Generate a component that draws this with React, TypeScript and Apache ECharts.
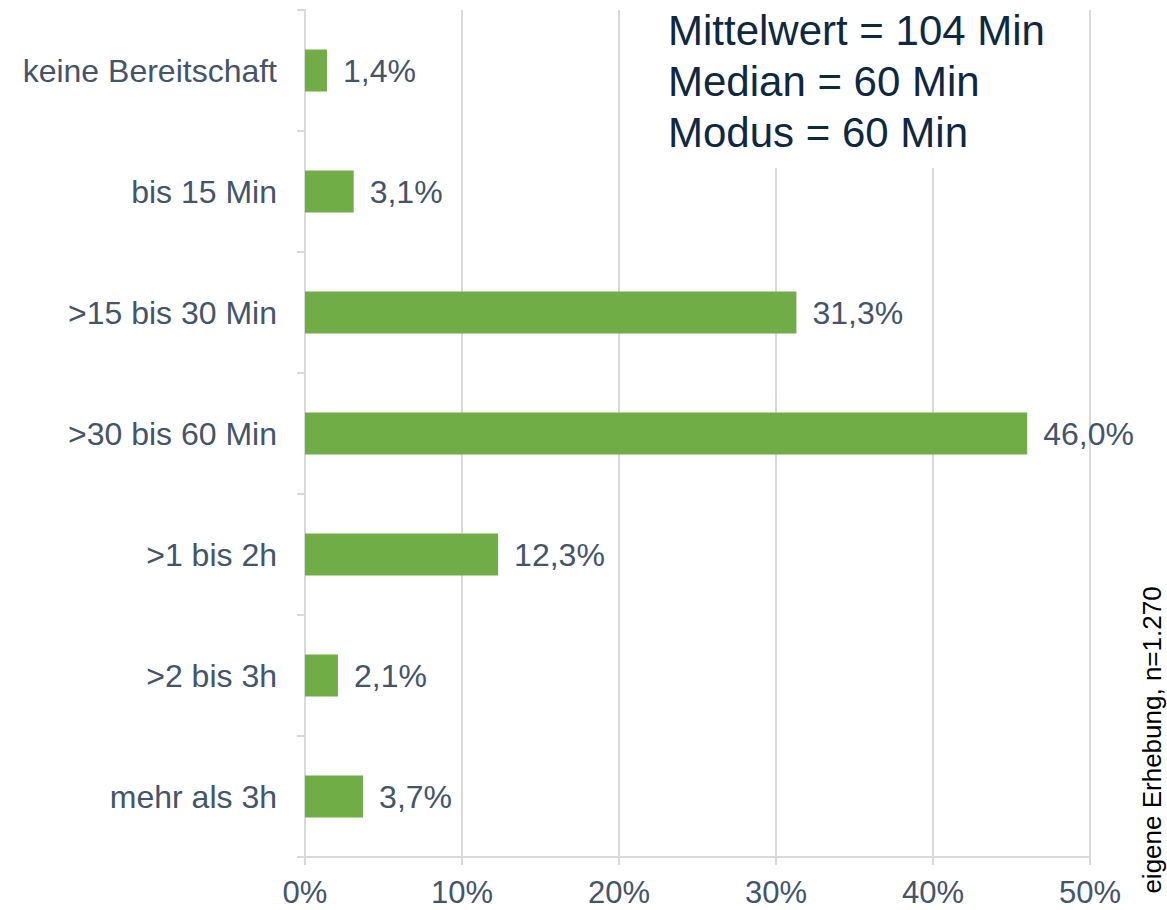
import React, { useEffect, useRef } from "react";
import * as echarts from "echarts";

const categories = [
  "keine Bereitschaft",
  "bis 15 Min",
  ">15 bis 30 Min",
  ">30 bis 60 Min",
  ">1 bis 2h",
  ">2 bis 3h",
  "mehr als 3h",
];
const values = [1.4, 3.1, 31.3, 46.0, 12.3, 2.1, 3.7];
const xTicks = [0, 10, 20, 30, 40, 50];
const statLines = ["Mittelwert = 104 Min", "Median = 60 Min", "Modus = 60 Min"];
const sourceNote = "eigene Erhebung, n=1.270";

const FONT = "'Liberation Sans', Arial, sans-serif";
const LABEL_COLOR = "#44546a";
const GRID_COLOR = "#d9d9d9";

export default function App() {
  const ref = useRef<HTMLDivElement>(null);
  useEffect(() => {
    document.body.style.margin = "0";
    const chart = echarts.init(ref.current!, null, { renderer: "svg" });
    chart.setOption({
      animation: false,
      backgroundColor: "#ffffff",
      textStyle: { fontFamily: FONT },
      grid: { left: 305, right: 77, top: 10, bottom: 53, containLabel: false },
      xAxis: {
        type: "value",
        min: xTicks[0],
        max: xTicks[xTicks.length - 1],
        interval: 10,
        axisLine: { show: true, lineStyle: { color: GRID_COLOR, width: 2 } },
        axisTick: { show: true, length: 8, lineStyle: { color: GRID_COLOR, width: 2 } },
        splitLine: { show: true, lineStyle: { color: GRID_COLOR, width: 2 } },
        axisLabel: {
          color: LABEL_COLOR,
          fontSize: 31,
          fontFamily: FONT,
          margin: 20,
          formatter: (v: number) => `${v}%`,
        },
      },
      yAxis: {
        type: "category",
        data: categories,
        inverse: true,
        axisLine: { show: true, lineStyle: { color: GRID_COLOR, width: 2 } },
        axisTick: { show: true, length: 8, lineStyle: { color: GRID_COLOR, width: 2 } },
        axisLabel: {
          color: LABEL_COLOR,
          fontSize: 32,
          fontFamily: FONT,
          margin: 28,
        },
      },
      series: [
        {
          type: "bar",
          data: values,
          barWidth: 42,
          itemStyle: { color: "#70ad47" },
          label: {
            show: true,
            position: "right",
            distance: 16,
            color: LABEL_COLOR,
            fontSize: 32,
            fontFamily: FONT,
            formatter: (p: any) => `${p.value.toFixed(1).replace(".", ",")}%`,
          },
          z: 3,
        },
      ],
      graphic: [
        {
          type: "rect",
          shape: { x: 655, y: 0, width: 405, height: 168 },
          style: { fill: "#ffffff" },
          z: 10,
        },
        ...statLines.map((t, i) => ({
          type: "text",
          x: 668,
          y: 30 + i * 51,
          z: 11,
          style: {
            text: t,
            fill: "#0e2841",
            fontSize: 42,
            fontFamily: FONT,
            verticalAlign: "middle",
            align: "left",
          },
        })),
        {
          type: "text",
          x: 1152,
          y: 740,
          rotation: Math.PI / 2,
          z: 11,
          style: {
            text: sourceNote,
            fill: "#000000",
            fontSize: 26,
            fontFamily: FONT,
            align: "center",
            verticalAlign: "middle",
          },
        },
      ],
    });
    return () => chart.dispose();
  }, []);
  return <div ref={ref} style={{ width: 1167, height: 910 }} />;
}
